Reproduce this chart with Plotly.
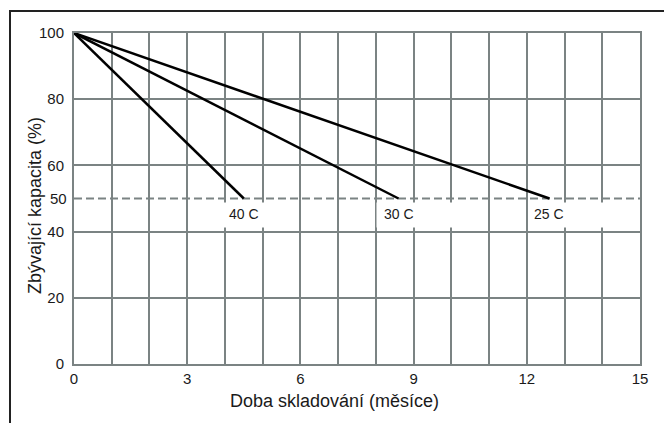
import plotly.graph_objects as go

# ---- data ----
temps = ["40 C", "30 C", "25 C"]
start_month = 0
start_capacity = 100
end_months = [4.5, 8.6, 12.6]      # months until capacity reaches 50 %
end_capacity = 50
cutoff_level = 50
x_ticks = [0, 3, 6, 9, 12, 15]
y_ticks = [0, 20, 40, 60, 80, 100]
x_title = "Doba skladování (měsíce)"
y_title = "Zbývající kapacita (%)"

# ---- layout helpers (page has an 8px body margin) ----
OFF = 8
W, H = 664, 415
ML, MR, MT, MB = 66, 32, 25, 59
PW, PH = W - ML - MR, H - MT - MB
def px(xw):
    return (xw - OFF - ML) / PW
def py(yw):
    return (H - MB - (yw - OFF)) / PH

GRID = "#7b8383"
TXT = "#1a1a1a"
FONT = "Liberation Sans, Arial, sans-serif"

fig = go.Figure()

# dashed 50 % cutoff line
fig.add_trace(go.Scatter(
    x=[x_ticks[0], x_ticks[-1]], y=[cutoff_level, cutoff_level],
    mode="lines", line=dict(color=GRID, width=2, dash="8px,4px"),
    hoverinfo="skip", showlegend=False))

# capacity decay lines
for t, m in zip(temps, end_months):
    fig.add_trace(go.Scatter(
        x=[start_month, m], y=[start_capacity, end_capacity],
        mode="lines", line=dict(color="black", width=2.5),
        name=t, showlegend=False))

# white label boxes (pixel offsets around each end point) and labels
box_px = [(-26, 22), (-22, 58), (-18, 60)]
for t, m, (b0, b1) in zip(temps, end_months, box_px):
    fig.add_shape(type="rect", xref="x", yref="y",
                  xsizemode="pixel", xanchor=m, x0=b0, x1=b1,
                  ysizemode="pixel", yanchor=end_capacity, y0=-4, y1=-29,
                  fillcolor="white", line=dict(width=0), layer="between")
    fig.add_annotation(
        x=m, y=end_capacity, xref="x", yref="y", text=t, showarrow=False,
        yanchor="middle", yshift=-15,
        font=dict(family=FONT, size=14, color=TXT))

# 50 tick label
fig.add_annotation(x=0, y=cutoff_level, xref="paper", yref="y", text=str(cutoff_level),
                   showarrow=False, xanchor="right", xshift=-5,
                   font=dict(family=FONT, size=15, color=TXT))

# axis titles
fig.add_annotation(x=px(334), y=py(401), xref="paper", yref="paper", text=x_title,
                   showarrow=False, xanchor="center", yanchor="middle",
                   font=dict(family=FONT, size=18, color=TXT))
fig.add_annotation(x=px(35), y=py(206), xref="paper", yref="paper", text=y_title,
                   showarrow=False, textangle=-90, xanchor="center", yanchor="middle",
                   font=dict(family=FONT, size=18, color=TXT))

# outer frame
fig.add_shape(type="rect", xref="paper", yref="paper",
              x0=px(10), y0=py(440), x1=px(690), y1=py(11),
              line=dict(color="#222", width=2), fillcolor="rgba(0,0,0,0)", layer="below")

fig.update_layout(
    width=W, height=H,
    margin=dict(l=ML, r=MR, t=MT, b=MB, pad=0),
    paper_bgcolor="white", plot_bgcolor="white",
    font=dict(family=FONT, size=15, color=TXT),
    showlegend=False,
)
fig.update_xaxes(
    range=[x_ticks[0], x_ticks[-1]], tickmode="array", tickvals=x_ticks,
    showgrid=True, gridcolor=GRID, gridwidth=2, zeroline=False,
    showline=True, mirror=True, linecolor=GRID, linewidth=2,
    ticks="", ticklabelstandoff=0, tickfont=dict(size=15),
    minor=dict(dtick=1, showgrid=True, gridcolor=GRID, gridwidth=2, ticks=""),
)
fig.update_yaxes(
    range=[0, 100], tickmode="array", tickvals=y_ticks,
    showgrid=True, gridcolor=GRID, gridwidth=2, zeroline=False,
    showline=True, mirror=True, linecolor=GRID, linewidth=2,
    ticks="", ticklabelstandoff=5, tickfont=dict(size=15),
)

fig.write_html("out.html")
